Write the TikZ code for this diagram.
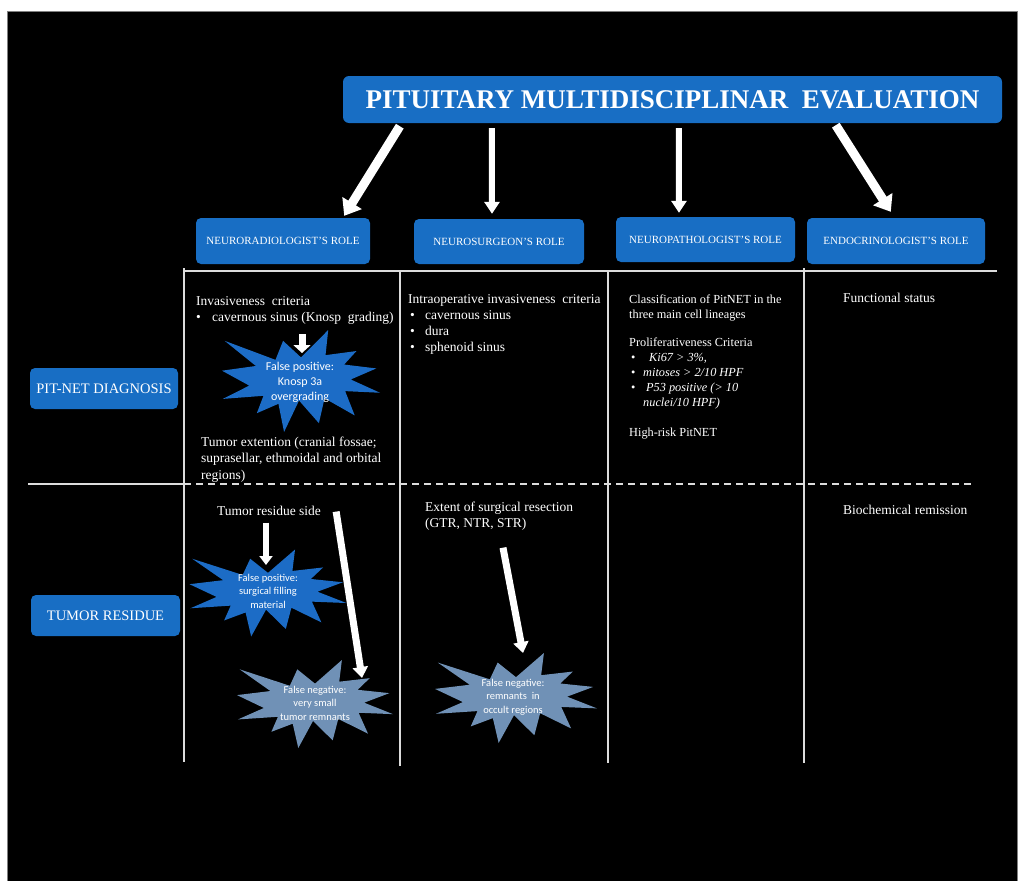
\documentclass[tikz,border=0pt]{standalone}
\usepackage{fontspec}
\setmainfont{Liberation Serif}
\newfontfamily\burstfont{Carlito}
\usetikzlibrary{arrows.meta}
\usetikzlibrary{positioning}
\definecolor{boxblue}{RGB}{24,110,196}
\definecolor{burstblue}{RGB}{28,108,198}
\definecolor{burstgray}{RGB}{112,145,182}
\definecolor{rulegray}{RGB}{220,220,220}
\tikzset{
  titlebox/.style={fill=boxblue, rounded corners=6pt, text=white, inner sep=0pt, minimum width=659pt, minimum height=47pt, font=\fontsize{27}{30}\selectfont\bfseries},
  rolebox/.style={fill=boxblue, rounded corners=5pt, text=white, align=center, inner sep=0pt, minimum width=#1, minimum height=46pt, font=\fontsize{11}{13}\selectfont},
  rolebox/.default=174pt,
  rowbox/.style={fill=boxblue, rounded corners=5pt, text=white, inner sep=0pt, minimum width=149pt, minimum height=41pt, font=\fontsize{14.5}{17}\selectfont},
  celltext/.style={text=white, anchor=north west, inner sep=0pt, align=left, font=\fontsize{13.5}{16.2}\selectfont},
  smalltext/.style={text=white, anchor=north west, inner sep=0pt, align=left, font=\fontsize{12.3}{14.8}\selectfont},
  bursttext/.style={text=white, align=center, inner sep=0pt, font=\burstfont\fontsize{10.5}{13.5}\selectfont},
  bigburst/.style={bursttext, font=\burstfont\fontsize{12}{15}\selectfont},
  rule/.style={draw=rulegray, line width=1.2pt},
  arr/.style n args={3}{draw=white, line width=#1, -{Triangle[width=#2,length=#3]}},
}
% explosion shape round a centre: centre, width, height, colour
\newcommand{\burst}[4]{%
  \begin{scope}[shift={(#1)}, xscale=#2, yscale=#3]
    \fill[#4] (0,-0.2315) -- (0.1723,-0.5) -- (0.1553,-0.2535) -- (0.3509,-0.2937)
      -- (0.2732,-0.1613) -- (0.4767,-0.1233) -- (0.3151,-0.0150) -- (0.5,0.1153)
      -- (0.2795,0.0992) -- (0.3400,0.3377) -- (0.1491,0.1693) -- (0.1133,0.4137)
      -- (-0.0124,0.1914) -- (-0.1072,0.5) -- (-0.1428,0.2235) -- (-0.2795,0.3156)
      -- (-0.2376,0.1452) -- (-0.4938,0.1753) -- (-0.3277,0.0451) -- (-0.5,-0.1012)
      -- (-0.2858,-0.1474) -- (-0.4829,-0.3937) -- (-0.1615,-0.2074) -- (-0.1133,-0.3937)
      -- cycle;
  \end{scope}}

\begin{document}
\begin{tikzpicture}[x=1pt, y=-1pt]
  \useasboundingbox (0,0) rectangle (1018,881);
  \fill[white] (0,0) rectangle (1018,881);
  \filldraw[fill=black, draw=gray] (7,11) rectangle (1017,886);

  % header and roles
  \node[titlebox] (title) at (672.5,99.5) {PITUITARY MULTIDISCIPLINAR\ \ EVALUATION};
  \node[rolebox=174pt] (rad) at (283,241) {NEURORADIOLOGIST'S ROLE};
  \node[rolebox=170pt, minimum height=45pt] (surg) at (499,241.5) {NEUROSURGEON'S ROLE};
  \node[rolebox=179pt, minimum height=45pt] (patho) at (705.5,239.5) {NEUROPATHOLOGIST'S ROLE};
  \node[rolebox=178pt] (endo) at (896,241) {ENDOCRINOLOGIST'S ROLE};

  \node[rowbox, minimum width=148pt] (diag) at (104,388.5) {PIT-NET DIAGNOSIS};
  \node[rowbox] (resid) at (105.5,615.5) {TUMOR RESIDUE};

  % table rules
  \draw[rule] (184,271) -- (997,271);
  \draw[rule] (184,268) -- (184,762);
  \draw[rule] (400,271) -- (400,766);
  \draw[rule] (608,271) -- (608,763);
  \draw[rule] (804,268) -- (804,763);
  \draw[rule] (28,484) -- (184,484);
  \draw[rule, dash pattern=on 7pt off 5pt] (184,484) -- (972,484);

  % bursts
  \coordinate (knospc) at (301,381);
  \coordinate (fillc) at (268,593);
  \coordinate (remnc) at (315,704);
  \coordinate (occc) at (516,698);
  \burst{knospc}{158}{102}{burstblue}
  \burst{fillc}{157}{87}{burstblue}
  \burst{remnc}{156}{88}{burstgray}
  \burst{occc}{162}{90}{burstgray}
  \node[bigburst] (knosp) at (300,382) {False positive:\\Knosp 3a\\overgrading};
  \node[bursttext] (filling) at (268,591) {False positive:\\surgical filling\\material};
  \node[bursttext] (remn) at (315,703) {False negative:\\very small\\tumor remnants};
  \node[bursttext] (occult) at (513,697) {False negative:\\remnants\ \ in\\occult regions};

  % cell texts
  \node[celltext] (inv) at (196,296) {Invasiveness\ \ criteria\\\makebox[16pt][l]{\textbullet}cavernous sinus (Knosp\ \ grading)};
  \node[celltext] (ext) at (201,437) {Tumor extention (cranial fossae;\\suprasellar, ethmoidal and orbital\\regions)};
  \node[celltext] (intra) at (408,294) {Intraoperative invasiveness\ \ criteria\\
    \hspace{2pt}\makebox[15pt][l]{\textbullet}cavernous sinus\\
    \hspace{2pt}\makebox[15pt][l]{\textbullet}dura\\
    \hspace{2pt}\makebox[15pt][l]{\textbullet}sphenoid sinus};
  \node[smalltext] (classif) at (629,294.5) {Classification of PitNET in the\\three main cell lineages\\[14pt]
    Proliferativeness Criteria\\
    \hspace{2pt}\makebox[18pt][l]{\textbullet}\textit{Ki67 > 3\%,}\\
    \hspace{2pt}\makebox[12pt][l]{\textbullet}\textit{mitoses > 2/10 HPF}\\
    \hspace{2pt}\makebox[15pt][l]{\textbullet}\textit{P53 positive (> 10}\\
    \hspace{14pt}\textit{nuclei/10 HPF)}\\[16pt]
    High-risk PitNET};
  \node[celltext] (func) at (843,292.7) {Functional status};
  \node[celltext] (resside) at (217,505.7) {Tumor residue side};
  \node[celltext] (extent) at (425,501.7) {Extent of surgical resection\\(GTR, NTR, STR)};
  \node[celltext] (bioch) at (843,504.7) {Biochemical remission};

  % arrows
  \draw[arr={9pt}{22pt}{15pt}] ([xshift=57pt,yshift=-3pt]title.south west) -- ([xshift=-26pt,yshift=2pt]rad.north east);
  \draw[arr={6pt}{15pt}{12pt}] ([xshift=149pt,yshift=-5pt]title.south west) -- ([xshift=-7pt,yshift=5pt]surg.north);
  \draw[arr={6pt}{15pt}{12pt}] ([xshift=336pt,yshift=-5pt]title.south west) -- ([xshift=-26.5pt,yshift=4pt]patho.north);
  \draw[arr={9pt}{22pt}{15pt}] ([xshift=493pt,yshift=-2pt]title.south west) -- ([xshift=84pt,yshift=6pt]endo.north west);
  \draw[arr={7pt}{17pt}{8pt}] ([xshift=106pt,yshift=-10pt]inv.south west) -- ([xshift=1pt,yshift=28pt]knospc);
  \draw[arr={6pt}{13pt}{9pt}] ([xshift=49pt,yshift=-7pt]resside.south west) -- ([xshift=-2pt,yshift=28pt]fillc);
  \draw[arr={7pt}{15pt}{11pt}] ([xshift=15pt,yshift=4pt]resside.south east) -- ([xshift=47pt,yshift=26pt]remnc);
  \draw[arr={7pt}{15pt}{11pt}] ([xshift=78pt,yshift=-17pt]extent.south west) -- ([xshift=7pt,yshift=45pt]occc);
\end{tikzpicture}
\end{document}
